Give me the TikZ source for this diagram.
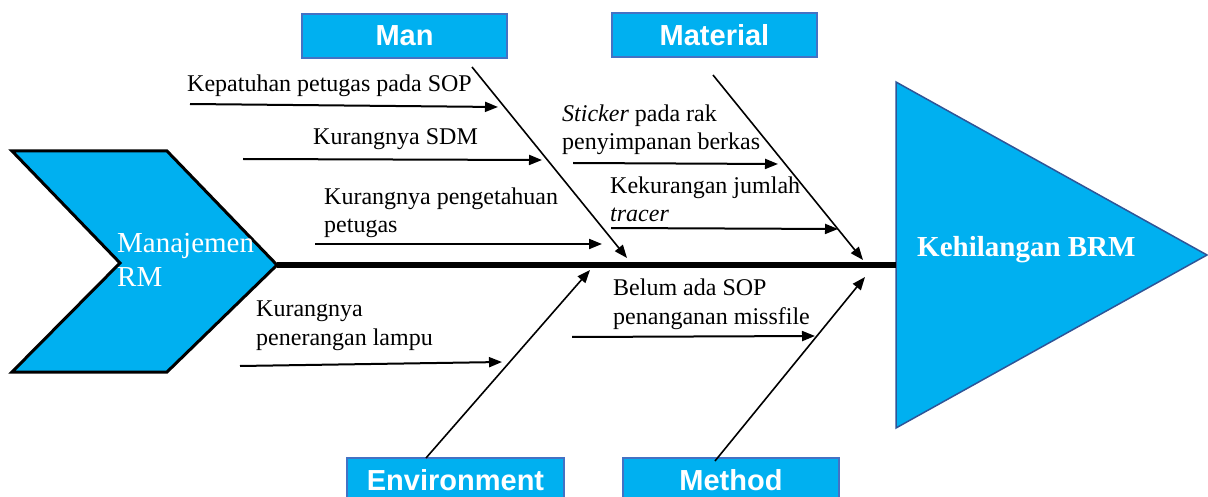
\documentclass[tikz,border=0pt]{standalone}
\usepackage{fontspec}
\setmainfont{Liberation Serif}
\newfontfamily\hsans{Liberation Sans}
\usetikzlibrary{arrows.meta}
\definecolor{fillc}{HTML}{00B0F0}
\definecolor{boxb}{HTML}{4472C4}
\definecolor{trib}{HTML}{2F5597}
\begin{document}
\begin{tikzpicture}[x=1pt,y=-1pt,
 cat/.style={draw=boxb, line width=2.5pt, fill=fillc, minimum width=205pt, minimum height=44pt, inner sep=0pt, font=\hsans\bfseries\fontsize{29}{32}\selectfont, text=white},
 cause/.style={font=\fontsize{24}{28.5}\selectfont, align=left, anchor=base west, inner sep=0pt},
 sub/.style={line width=2pt, -{Triangle[length=13pt,width=10pt]}},
 bone/.style={line width=1.6pt, -{Triangle[length=13pt,width=10pt]}}]
\useasboundingbox (0,0) rectangle (1208,497);
% head (effect) and tail
\path[fill=fillc, draw=trib, line width=1.5pt] (896,82) -- (1207,255) -- (896,428) -- cycle;
\path[fill=fillc, draw=black, line width=3pt, line join=miter] (12,151) -- (167,151) -- (277,265) -- (167,372) -- (12,372) -- (120,263) -- cycle;
\node[anchor=base west, inner sep=0pt, align=left, text=white, font=\fontsize{29}{34}\selectfont] (tail) at (117,287) {Manajemen\\RM};
\node[anchor=base west, inner sep=0pt, text=white, font=\bfseries\fontsize{29}{34}\selectfont] (head) at (917,257) {Kehilangan BRM};
\coordinate (spineL) at (277,265);
\coordinate (spineR) at (896,265);
\draw[line width=6pt] (spineL) -- (spineR);
% categories
\node[cat] (man) at (404.5,36) {Man};
\node[cat] (mat) at (714.5,35) {Material};
\node[cat, minimum width=217pt] (env) at (455.5,480) {Environment};
\node[cat, minimum width=216pt] (met) at (731,480) {Method};
% bones
\coordinate (manS) at (472,67);   \coordinate (manE) at (627,258);
\coordinate (matS) at (713,75);   \coordinate (matE) at (863,260);
\coordinate (envS) at (426,458);  \coordinate (envE) at (590,270);
\coordinate (metS) at (715,461);  \coordinate (metE) at (865,277);
\draw[bone] (manS) -- (manE);
\draw[bone] (matS) -- (matE);
\draw[bone] (envS) -- (envE);
\draw[bone] (metS) -- (metE);
% causes (two-line nodes are anchored at the baseline of their last line)
\node[cause] (c1) at (187,92) {Kepatuhan petugas pada SOP};
\node[cause] (c2) at (313,145) {Kurangnya SDM};
\node[cause] (c3) at (324,233) {Kurangnya pengetahuan\\petugas};
\node[cause] (c4) at (562,150) {\textit{Sticker} pada rak\\penyimpanan berkas};
\node[cause] (c5) at (610,222) {Kekurangan jumlah\\\textit{tracer}};
\node[cause] (c6) at (256,345) {Kurangnya\\penerangan lampu};
\node[cause] (c7) at (613,324) {Belum ada SOP\\penanganan missfile};
% cause arrows
\coordinate (a1s) at (190,104); \coordinate (a1e) at (498,107);
\coordinate (a2s) at (243,159); \coordinate (a2e) at (542,160);
\coordinate (a3s) at (315,244); \coordinate (a3e) at (602,244);
\coordinate (a4s) at (573,163); \coordinate (a4e) at (778,164);
\coordinate (a5s) at (611,228); \coordinate (a5e) at (838,229);
\coordinate (a6s) at (240,366); \coordinate (a6e) at (502,362);
\coordinate (a7s) at (572,337); \coordinate (a7e) at (815,336);
\draw[sub] (a1s) -- (a1e);
\draw[sub] (a2s) -- (a2e);
\draw[sub] (a3s) -- (a3e);
\draw[sub] (a4s) -- (a4e);
\draw[sub] (a5s) -- (a5e);
\draw[sub] (a6s) -- (a6e);
\draw[sub] (a7s) -- (a7e);
\end{tikzpicture}
\end{document}
